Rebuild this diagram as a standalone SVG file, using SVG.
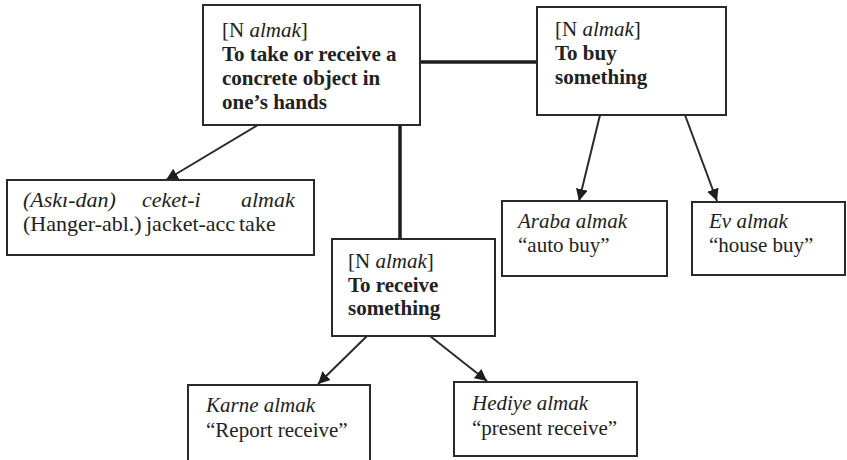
<svg xmlns="http://www.w3.org/2000/svg" width="847" height="460" viewBox="0 0 847 460">
  <style>
    .box { fill: #ffffff; stroke: #2a2a2a; stroke-width: 2; }
    text { font-family: "Liberation Serif", "Times New Roman", serif; font-size: 21px; fill: #222222; }
    .b { font-weight: bold; }
    .i { font-style: italic; }
    .lg { font-size: 22px; }
    .link { stroke: #1e1e1e; stroke-width: 3.5; fill: none; }
    .arrow { stroke: #2a2a2a; stroke-width: 2; fill: none; marker-end: url(#head); }
  </style>
  <defs>
    <marker id="head" viewBox="0 0 10 10" refX="10" refY="5" markerWidth="6" markerHeight="6" orient="auto" markerUnits="strokeWidth">
      <path d="M0,0 L10,5 L0,10 Z" fill="#1e1e1e"/>
    </marker>
  </defs>
  <rect width="847" height="460" fill="#ffffff"/>

  <g id="connectors">
    <line class="link" x1="420" y1="62" x2="537" y2="62"/>
    <line class="link" x1="400" y1="125" x2="400" y2="239"/>
    <line class="arrow" x1="258" y1="125" x2="166" y2="180"/>
    <line class="arrow" x1="600" y1="115" x2="579" y2="201"/>
    <line class="arrow" x1="685" y1="115" x2="717" y2="201"/>
    <line class="arrow" x1="367" y1="336" x2="318" y2="384"/>
    <line class="arrow" x1="430" y1="336" x2="487" y2="381"/>
  </g>

  <g id="take">
    <rect class="box" x="203" y="5" width="217" height="120"/>
    <text x="222" y="37">[N <tspan class="i">almak</tspan>]</text>
    <text class="b" x="222" y="61">To take or receive a</text>
    <text class="b" x="222" y="85">concrete object in</text>
    <text class="b" x="222" y="109">one’s hands</text>
  </g>

  <g id="buy">
    <rect class="box" x="537" y="7" width="189" height="108"/>
    <text x="555" y="36">[N <tspan class="i">almak</tspan>]</text>
    <text class="b" x="555" y="60">To buy</text>
    <text class="b" x="555" y="84">something</text>
  </g>

  <g id="askidan">
    <rect class="box" x="7" y="180" width="307" height="75"/>
    <text class="i lg" x="23" y="207">(Askı-dan)</text>
    <text class="i lg" x="142" y="207">ceket-i</text>
    <text class="i lg" x="241" y="207">almak</text>
    <text class="lg" x="23" y="231">(Hanger-abl.)</text>
    <text class="lg" x="146" y="231">jacket-acc</text>
    <text class="lg" x="239" y="231">take</text>
  </g>

  <g id="receive">
    <rect class="box" x="332" y="239" width="163" height="97"/>
    <text x="348" y="268">[N <tspan class="i">almak</tspan>]</text>
    <text class="b" x="348" y="292">To receive</text>
    <text class="b" x="348" y="315">something</text>
  </g>

  <g id="araba">
    <rect class="box" x="502" y="201" width="165" height="75"/>
    <text class="i" x="518" y="228">Araba almak</text>
    <text x="518" y="252">“auto buy”</text>
  </g>

  <g id="ev">
    <rect class="box" x="692" y="202" width="153" height="73"/>
    <text class="i" x="709" y="228">Ev almak</text>
    <text x="709" y="252">“house buy”</text>
  </g>

  <g id="karne">
    <rect class="box" x="188" y="385" width="182" height="80"/>
    <text class="i" x="206" y="412">Karne almak</text>
    <text x="206" y="437">“Report receive”</text>
  </g>

  <g id="hediye">
    <rect class="box" x="454" y="382" width="183" height="74"/>
    <text class="i" x="472" y="410">Hediye almak</text>
    <text x="472" y="435">“present receive”</text>
  </g>
</svg>
